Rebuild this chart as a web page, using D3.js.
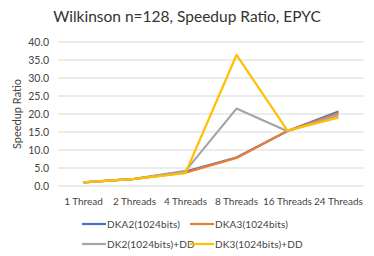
<!DOCTYPE html>
<html>
<head>
<meta charset="utf-8">
<script src="https://cdn.jsdelivr.net/npm/d3@7"></script>
<style>
  body { margin: 0; background: #fff; }
  svg { font-family: Lato, "Open Sans", sans-serif; }
</style>
</head>
<body>
<div id="chart"></div>
<script>
// --- data ---
const categories = ["1 Thread", "2 Threads", "4 Threads", "8 Threads", "16 Threads", "24 Threads"];
const dka2 = [1.0, 2.0, 4.0, 7.9, 15.3, 20.7];
const dka3 = [1.0, 2.0, 3.7, 7.8, 15.3, 20.3];
const dk2dd = [1.0, 2.0, 4.2, 21.5, 15.2, 19.7];
const dk3dd = [1.0, 2.0, 3.6, 36.4, 15.4, 19.0];
const yTicks = [0, 5, 10, 15, 20, 25, 30, 35, 40];

const series = [
  { name: "DKA2(1024bits)", values: dka2, color: "#4472c4" },
  { name: "DKA3(1024bits)", values: dka3, color: "#ed7d31" },
  { name: "DK2(1024bits)+DD", values: dk2dd, color: "#a5a5a5" },
  { name: "DK3(1024bits)+DD", values: dk3dd, color: "#ffc000" }
];

const W = 374, H = 256;
const margin = { top: 42, right: 10, bottom: 70, left: 58 };

const svg = d3.select("#chart").append("svg")
  .attr("width", W).attr("height", H);

const x = d3.scaleBand().domain(categories).range([margin.left, 364]);
const y = d3.scaleLinear().domain([0, 40]).range([186, 42]);

// title
svg.append("text")
  .attr("x", 187).attr("y", 22)
  .attr("text-anchor", "middle")
  .attr("font-size", "15.5px")
  .attr("fill", "#333")
  .text("Wilkinson n=128, Speedup Ratio, EPYC");

// gridlines
svg.append("g").selectAll("line")
  .data(yTicks).enter().append("line")
  .attr("x1", margin.left).attr("x2", 364)
  .attr("y1", d => y(d)).attr("y2", d => y(d))
  .attr("stroke", "#d9d9d9").attr("stroke-width", 1);

// y tick labels
svg.append("g").selectAll("text")
  .data(yTicks).enter().append("text")
  .attr("x", 49).attr("y", d => y(d))
  .attr("dy", "0.35em")
  .attr("text-anchor", "end")
  .attr("font-size", "10.5px")
  .attr("fill", "#444")
  .text(d => d.toFixed(1));

// y axis title
svg.append("text")
  .attr("transform", `translate(21,${(y(0) + y(40)) / 2}) rotate(-90)`)
  .attr("text-anchor", "middle")
  .attr("font-size", "11px")
  .attr("fill", "#444")
  .text("Speedup Ratio");

// x labels
svg.append("g").selectAll("text")
  .data(categories).enter().append("text")
  .attr("x", d => x(d) + x.bandwidth() / 2)
  .attr("y", 201)
  .attr("dy", "0.35em")
  .attr("text-anchor", "middle")
  .attr("font-size", "10px")
  .attr("fill", "#444")
  .text(d => d);

// lines
const line = d3.line()
  .x((d, i) => x(categories[i]) + x.bandwidth() / 2)
  .y(d => y(d));

svg.append("g").selectAll("path")
  .data(series).enter().append("path")
  .attr("d", d => line(d.values))
  .attr("fill", "none")
  .attr("stroke", d => d.color)
  .attr("stroke-width", 2.2)
  .attr("stroke-linejoin", "round");

// legend
const legendPos = [[82, 224], [190, 224], [82, 244], [190, 244]];
const legend = svg.append("g").selectAll("g")
  .data(series).enter().append("g")
  .attr("transform", (d, i) => `translate(${legendPos[i][0]},${legendPos[i][1]})`);
legend.append("line")
  .attr("x1", 0).attr("x2", 24)
  .attr("stroke", d => d.color).attr("stroke-width", 2.2);
legend.append("text")
  .attr("x", 25).attr("dy", "0.35em")
  .attr("font-size", "10px")
  .attr("letter-spacing", "0.15px")
  .attr("fill", "#444")
  .text(d => d.name);
</script>
</body>
</html>
